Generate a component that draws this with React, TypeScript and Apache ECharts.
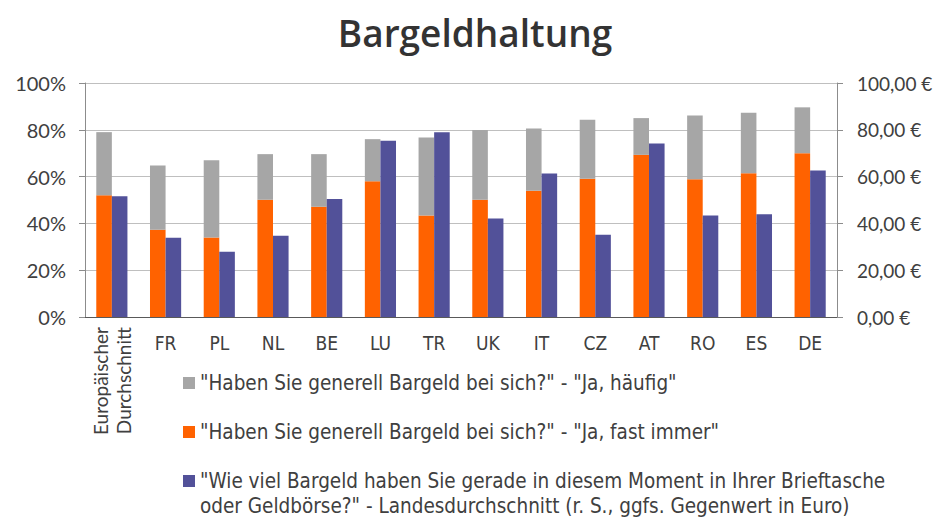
import React, { useEffect, useRef } from "react";
import * as echarts from "echarts";

const categories = ["Europäischer\nDurchschnitt", "FR", "PL", "NL", "BE", "LU", "TR", "UK", "IT", "CZ", "AT", "RO", "ES", "DE"];
const fastImmer = [52.0, 37.3, 34.0, 50.1, 47.1, 58.0, 43.4, 50.1, 53.9, 59.1, 69.3, 58.9, 61.4, 70.0];
const haeufig = [27.0, 27.4, 33.0, 19.5, 22.5, 18.0, 33.3, 29.8, 26.7, 25.2, 15.7, 27.2, 25.9, 19.6];
const betragEuro = [51.6, 33.9, 27.9, 34.7, 50.4, 75.3, 79.0, 42.1, 61.3, 35.1, 74.1, 43.4, 43.9, 62.6];

const nameHaeufig = '"Haben Sie generell Bargeld bei sich?" - "Ja, häufig"';
const nameFast = '"Haben Sie generell Bargeld bei sich?" - "Ja, fast immer"';
const nameBetrag = '"Wie viel Bargeld haben Sie gerade in diesem Moment in Ihrer Brieftasche\noder Geldbörse?" - Landesdurchschnitt (r. S., ggfs. Gegenwert in Euro)';

const FONT = "Lato";
const NARROW = "DejaVu Sans Condensed";
const TXT = "#404040";

function legendAt(name: string, top: number, leadingBlank: boolean) {
  return {
    orient: "vertical",
    left: 183,
    top,
    padding: 0,
    itemWidth: 12,
    itemHeight: 12,
    itemGap: 0,
    icon: "rect",
    data: [name],
    formatter: (n: string) => (leadingBlank ? "\n" + n : n),
    textStyle: {
      fontSize: 20.5,
      color: TXT,
      fontFamily: NARROW,
      lineHeight: 25,
    },
  };
}

export default function App() {
  const ref = useRef<HTMLDivElement>(null);
  useEffect(() => {
    document.body.style.margin = "0";
    if (!ref.current) return;
    const chart = echarts.init(ref.current, undefined, { renderer: "svg" });
    chart.setOption({
      animation: false,
      textStyle: { fontFamily: FONT },
      title: {
        text: "Bargeldhaltung",
        left: "center",
        top: 9,
        textStyle: { fontSize: 37, fontWeight: 600, color: "#333", fontFamily: "Open Sans" },
      },
      grid: { left: 85, right: 113, top: 83, bottom: 201, containLabel: false },
      legend: [
        legendAt(nameHaeufig, 370.5, false),
        legendAt(nameFast, 419.5, false),
        legendAt(nameBetrag, 443.5, true),
      ],
      xAxis: [
        {
          type: "category",
          data: categories,
          position: "bottom",
          axisLine: { show: true, lineStyle: { color: "#595959", width: 1 } },
          axisTick: { show: false },
          axisLabel: {
            color: TXT,
            fontSize: 19,
            fontFamily: NARROW,
            margin: 16,
            interval: 0,
            formatter: (v: string, i: number) => (i === 0 ? "" : v),
          },
        },
        {
          type: "category",
          data: categories,
          position: "bottom",
          axisLine: { show: false },
          axisTick: { show: false },
          axisLabel: {
            color: TXT,
            fontSize: 19,
            rotate: 90,
            margin: 10,
            lineHeight: 23,
            interval: 0,
            formatter: (v: string, i: number) => (i === 0 ? v : ""),
          },
        },
      ],
      yAxis: [
        {
          type: "value",
          min: 0,
          max: 100,
          interval: 20,
          axisLine: { show: true, lineStyle: { color: "#8c8c8c" } },
          axisTick: { show: true, length: 6, lineStyle: { color: "#8c8c8c" } },
          axisLabel: { color: TXT, fontSize: 20, margin: 19, formatter: (v: number) => v + "%" },
          splitLine: { show: true, lineStyle: { color: "#bfbfbf", width: 1 } },
        },
        {
          type: "value",
          min: 0,
          max: 100,
          interval: 20,
          position: "right",
          axisLine: { show: true, lineStyle: { color: "#8c8c8c" } },
          axisTick: { show: true, length: 6, lineStyle: { color: "#8c8c8c" } },
          axisLabel: {
            color: TXT,
            fontSize: 19,
            margin: 20,
            formatter: (v: number) => v.toFixed(2).replace(".", ",") + " €",
          },
          splitLine: { show: false },
        },
      ],
      series: [
        {
          name: nameFast,
          type: "bar",
          stack: "bargeld",
          yAxisIndex: 0,
          data: fastImmer,
          itemStyle: { color: "#FF6200" },
          barGap: "0%",
          barCategoryGap: "42%",
        },
        {
          name: nameHaeufig,
          type: "bar",
          stack: "bargeld",
          yAxisIndex: 0,
          data: haeufig,
          itemStyle: { color: "#A6A6A6" },
        },
        {
          name: nameBetrag,
          type: "bar",
          yAxisIndex: 1,
          data: betragEuro,
          itemStyle: { color: "#525199" },
          barGap: "0%",
          barCategoryGap: "42%",
        },
      ],
    });
    return () => chart.dispose();
  }, []);
  return <div ref={ref} style={{ width: 950, height: 518 }} />;
}
